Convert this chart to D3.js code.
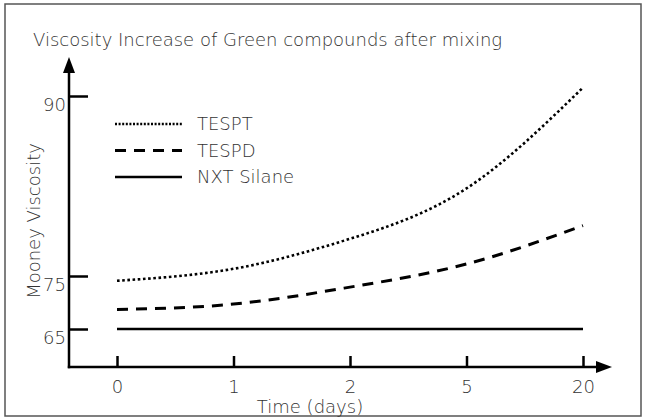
<!DOCTYPE html>
<html>
<head>
<meta charset="utf-8">
<script src="https://cdn.jsdelivr.net/npm/d3@7"></script>
<style>
  body { margin: 0; background: #fff; }
  svg { font-family: "DejaVu Sans", sans-serif; font-weight: 200; }
</style>
</head>
<body>
<div id="chart"></div>
<script>
// data
const days = ['0', '1', '2', '5', '20'];
const yTicks = [65, 75, 90];
const tespt = [74.1, 75.6, 78.1, 82.3, 90.7];
const tespd = [68.7, 69.7, 72.9, 76.0, 79.2];
const nxt = [65, 65, 65, 65, 65];
const seriesNames = ['TESPT', 'TESPD', 'NXT Silane'];

const width = 645, height = 419;
const textColor = '#333';
const fontFamily = '"DejaVu Sans", sans-serif';
const fontSize = '18px';
const axisX = 69, axisY = 367;

const svg = d3.select('#chart').append('svg')
  .attr('width', width)
  .attr('height', height);

// frame
svg.append('rect')
  .attr('x', 5).attr('y', 4)
  .attr('width', 636).attr('height', 412)
  .attr('fill', 'none')
  .attr('stroke', '#555')
  .attr('stroke-width', 1.5);

svg.append('text')
  .attr('x', 33).attr('y', 46)
  .attr('fill', textColor)
  .style('font-size', fontSize)
  .text('Viscosity Increase of Green compounds after mixing');

const x = d3.scalePoint().domain(days).range([117, 583]);
// the value axis is schematic: uneven spacing between ticks
const y = d3.scaleLinear().domain([65, 75, 90]).range([329, 276, 96]);

// y axis
const yAxis = svg.append('g')
  .attr('transform', `translate(${axisX},0)`)
  .call(d3.axisLeft(y).tickValues(yTicks).tickSizeInner(-19).tickSizeOuter(0).tickPadding(3));
yAxis.select('.domain').remove();
yAxis.selectAll('.tick line').attr('stroke', '#000').attr('stroke-width', 2.5);
yAxis.selectAll('.tick text')
  .attr('fill', textColor)
  .attr('dy', '0.8em')
  .style('font-size', fontSize)
  .style('font-family', fontFamily);

svg.append('line')
  .attr('x1', axisX).attr('x2', axisX)
  .attr('y1', axisY + 1.2).attr('y2', 70)
  .attr('stroke', '#000').attr('stroke-width', 2.5);
svg.append('path')
  .attr('d', `M${axisX - 6},73 L${axisX},57 L${axisX + 6},73 Z`)
  .attr('fill', '#000');

// x axis
const xAxis = svg.append('g')
  .attr('transform', `translate(0,${axisY})`)
  .call(d3.axisBottom(x).tickSizeInner(-11).tickSizeOuter(0).tickPadding(13));
xAxis.select('.domain').remove();
xAxis.selectAll('.tick line').attr('stroke', '#000').attr('stroke-width', 2.5);
xAxis.selectAll('.tick text')
  .attr('fill', textColor)
  .style('font-size', fontSize)
  .style('font-family', fontFamily);

svg.append('line')
  .attr('x1', axisX - 1.2).attr('x2', 598)
  .attr('y1', axisY).attr('y2', axisY)
  .attr('stroke', '#000').attr('stroke-width', 2.5);
svg.append('path')
  .attr('d', `M596,${axisY - 6} L612,${axisY} L596,${axisY + 6} Z`)
  .attr('fill', '#000');

svg.append('text')
  .attr('x', 310).attr('y', 413)
  .attr('text-anchor', 'middle')
  .attr('fill', textColor)
  .style('font-size', fontSize)
  .text('Time (days)');

svg.append('text')
  .attr('transform', 'translate(40,221) rotate(-90)')
  .attr('text-anchor', 'middle')
  .attr('fill', textColor)
  .style('font-size', fontSize)
  .text('Mooney Viscosity');

// series
const styles = [
  { dash: '2.6 2.6', w: 2.6 },
  { dash: '11 8', w: 3 },
  { dash: null, w: 2.4 }
];
const line = d3.line()
  .x((d, i) => x(days[i]))
  .y(d => y(d))
  .curve(d3.curveNatural);

[tespt, tespd, nxt].forEach((vals, k) => {
  svg.append('path')
    .datum(vals)
    .attr('fill', 'none')
    .attr('stroke', '#000')
    .attr('stroke-width', styles[k].w)
    .attr('stroke-dasharray', styles[k].dash)
    .attr('d', line);
});

// legend
const legend = svg.append('g')
  .selectAll('g')
  .data(seriesNames)
  .join('g')
  .attr('transform', (d, i) => `translate(115,${124 + i * 26.5})`);

legend.append('line')
  .attr('x1', 0).attr('x2', 67)
  .attr('stroke', '#000')
  .attr('stroke-width', (d, i) => styles[i].w)
  .attr('stroke-dasharray', (d, i) => i === 0 ? '2 1.6' : styles[i].dash);

legend.append('text')
  .attr('x', 82)
  .attr('dy', '0.35em')
  .attr('fill', textColor)
  .style('font-size', fontSize)
  .text(d => d);
</script>
</body>
</html>
